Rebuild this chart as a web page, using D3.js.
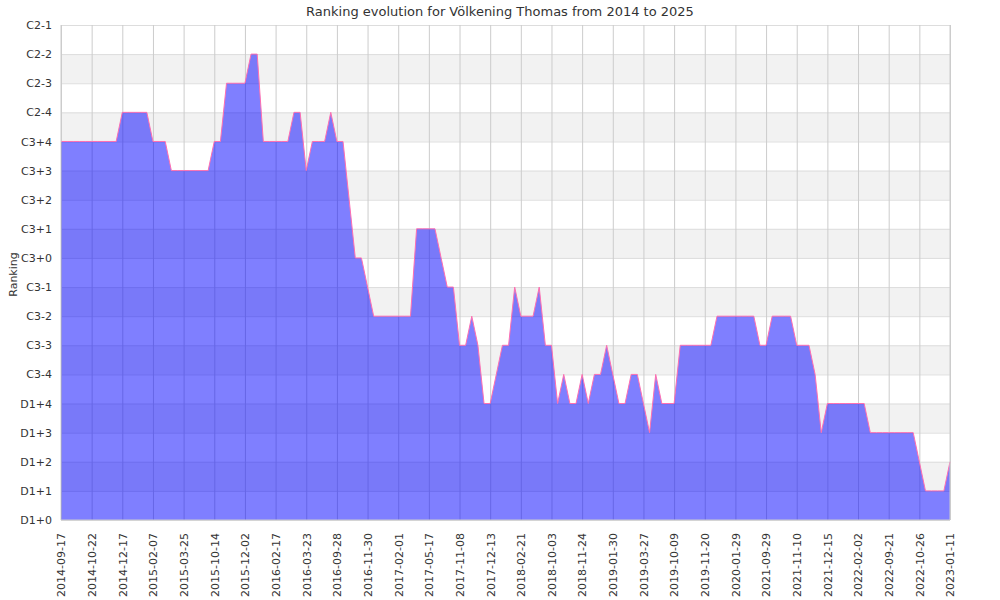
<!DOCTYPE html>
<html>
<head>
<meta charset="utf-8">
<script src="https://cdn.jsdelivr.net/npm/d3@7"></script>
<style>
  html, body { margin: 0; padding: 0; background: #fff; }
  svg { display: block; font-family: "DejaVu Sans", sans-serif; }
</style>
</head>
<body>
<svg id="chart" width="1000" height="600"></svg>
<script>
const titleText = "Ranking evolution for Völkening Thomas from 2014 to 2025";
const yLabelText = "Ranking";

const rankLabels = ["D1+0","D1+1","D1+2","D1+3","D1+4","C3-4","C3-3","C3-2","C3-1",
  "C3+0","C3+1","C3+2","C3+3","C3+4","C2-4","C2-3","C2-2","C2-1"];

const dateLabels = ["2014-09-17","2014-10-22","2014-12-17","2015-02-07","2015-03-25",
  "2015-10-14","2015-12-02","2016-02-17","2016-03-23","2016-09-28","2016-11-30",
  "2017-02-01","2017-05-17","2017-11-08","2017-12-13","2018-02-21","2018-10-03",
  "2018-11-24","2019-01-30","2019-03-27","2019-10-09","2019-11-20","2020-01-29",
  "2021-09-29","2021-11-10","2021-12-15","2022-02-02","2022-09-21","2022-10-26","2023-01-11"];
const labelEvery = 5;

// ranking level per recorded point (index into rankLabels)
const rankValues = [
  13,13,13,13,13,13,13,13,13,13,
  14,14,14,14,14,
  13,13,13,
  12,12,12,12,12,12,12,
  13,13,
  15,15,15,15,
  16,16,
  13,13,13,13,13,
  14,14,
  12,
  13,13,13,
  14,
  13,13,
  11,
  9,9,
  8,
  7,7,7,7,7,7,7,
  10,10,10,10,
  9,
  8,8,
  6,6,
  7,
  6,
  4,4,
  5,
  6,6,
  8,
  7,7,7,
  8,
  6,6,
  4,
  5,
  4,4,
  5,
  4,
  5,5,
  6,
  5,
  4,4,
  5,5,
  4,
  3,
  5,
  4,4,4,
  6,6,6,6,6,6,
  7,7,7,7,7,7,7,
  6,6,
  7,7,7,7,
  6,6,6,
  5,
  3,
  4,4,4,4,4,4,4,
  3,3,3,3,3,3,3,3,
  2,
  1,1,1,1,
  2
];

const svg = d3.select("#chart");
const W = 1000, H = 600;
const m = { left: 61, right: 50, top: 25, bottom: 80 };
const x0 = m.left, x1 = W - m.right, y0 = H - m.bottom, y1 = m.top;

const x = d3.scaleLinear().domain([0, rankValues.length - 1]).range([x0, x1]);
const y = d3.scaleLinear().domain([0, rankLabels.length - 1]).range([y0, y1]);

// alternating bands
const bandLevels = d3.range(2, rankLabels.length, 2);
svg.append("g").selectAll("rect").data(bandLevels).join("rect")
  .attr("x", x0).attr("width", x1 - x0)
  .attr("y", d => y(d)).attr("height", d => y(d - 1) - y(d))
  .attr("fill", "#f2f2f2");

// horizontal grid
const yAxis = d3.axisLeft(y)
  .tickValues(d3.range(rankLabels.length))
  .tickFormat(i => rankLabels[i])
  .tickSize(-(x1 - x0)).tickPadding(9);
const gy = svg.append("g").attr("transform", `translate(${x0},0)`).call(yAxis);
gy.select(".domain").remove();
gy.selectAll(".tick line").attr("stroke", "#ddd").attr("stroke-width", 1);
gy.selectAll(".tick text").attr("fill", "#333").style("font-size", "11px")
  .style("font-family", "DejaVu Sans, sans-serif");

// vertical grid + x labels
const tickIdx = dateLabels.map((d, i) => i * labelEvery);
const xAxis = d3.axisBottom(x)
  .tickValues(tickIdx)
  .tickFormat((d, i) => dateLabels[i])
  .tickSize(-(y0 - y1)).tickPadding(0);
const gx = svg.append("g").attr("transform", `translate(0,${y0})`).call(xAxis);
gx.select(".domain").remove();
gx.selectAll(".tick line").attr("stroke", "#ccc").attr("stroke-width", 1);
gx.selectAll(".tick text")
  .attr("fill", "#333").style("font-size", "11px")
  .style("font-family", "DejaVu Sans, sans-serif")
  .attr("transform", "rotate(-90)")
  .attr("text-anchor", "end")
  .attr("x", -13).attr("y", 0).attr("dy", "0.35em");

// area
const area = d3.area()
  .x((d, i) => x(i)).y0(y(0)).y1(d => y(d));
svg.append("path").datum(rankValues)
  .attr("d", area)
  .attr("fill", "rgba(0,0,255,0.5)");

const line = d3.line().x((d, i) => x(i)).y(d => y(d));
svg.append("path").datum(rankValues)
  .attr("d", line)
  .attr("fill", "none")
  .attr("stroke", "#ff6fb0")
  .attr("stroke-width", 1);

// frame
svg.append("line").attr("x1", x0).attr("x2", x0).attr("y1", y1).attr("y2", y0)
  .attr("stroke", "#ccc");
svg.append("line").attr("x1", x1).attr("x2", x1).attr("y1", y1).attr("y2", y0)
  .attr("stroke", "#ccc");
svg.append("line").attr("x1", x0).attr("x2", x1).attr("y1", y0).attr("y2", y0)
  .attr("stroke", "#ccc");

// title
svg.append("text").attr("x", 500).attr("y", 16)
  .attr("text-anchor", "middle").attr("fill", "#333")
  .style("font-size", "13px").text(titleText);

// y label
svg.append("text")
  .attr("transform", `translate(17,${(y0 + y1) / 2 + 2}) rotate(-90)`)
  .attr("text-anchor", "middle").attr("fill", "#333")
  .style("font-size", "11px").text(yLabelText);
</script>
</body>
</html>
